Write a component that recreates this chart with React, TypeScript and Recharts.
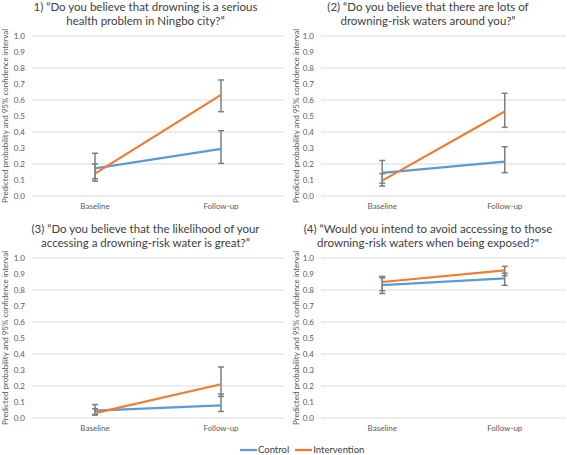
import React from 'react';
import { LineChart, Line, XAxis, YAxis, CartesianGrid, ErrorBar, Label } from 'recharts';

const categories = ['Baseline', 'Follow-up'];
const yTicks = [0, 0.1, 0.2, 0.3, 0.4, 0.5, 0.6, 0.7, 0.8, 0.9, 1.0];

// (1) serious health problem
const q1Control = [0.173, 0.294];
const q1ControlLow = [0.108, 0.204];
const q1ControlHigh = [0.267, 0.408];
const q1Intervention = [0.14, 0.632];
const q1InterventionLow = [0.093, 0.527];
const q1InterventionHigh = [0.2, 0.725];

// (2) lots of drowning-risk waters
const q2Control = [0.145, 0.215];
const q2ControlLow = [0.08, 0.146];
const q2ControlHigh = [0.222, 0.308];
const q2Intervention = [0.096, 0.528];
const q2InterventionLow = [0.062, 0.429];
const q2InterventionHigh = [0.14, 0.642];

// (3) likelihood of accessing
const q3Control = [0.046, 0.079];
const q3ControlLow = [0.022, 0.041];
const q3ControlHigh = [0.084, 0.15];
const q3Intervention = [0.031, 0.211];
const q3InterventionLow = [0.018, 0.135];
const q3InterventionHigh = [0.058, 0.319];

// (4) intend to avoid
const q4Control = [0.83, 0.872];
const q4ControlLow = [0.778, 0.829];
const q4ControlHigh = [0.876, 0.905];
const q4Intervention = [0.85, 0.922];
const q4InterventionLow = [0.795, 0.89];
const q4InterventionHigh = [0.885, 0.948];

const BLUE = '#5b9bd5';
const ORANGE = '#ed7d31';
const FONT = 'Lato, "Open Sans", sans-serif';

const buildRows = (c: number[], cLo: number[], cHi: number[], i: number[], iLo: number[], iHi: number[]) =>
  categories.map((name, k) => ({
    name,
    control: c[k],
    controlErr: [c[k] - cLo[k], cHi[k] - c[k]],
    intervention: i[k],
    interventionErr: [i[k] - iLo[k], iHi[k] - i[k]],
  }));

interface PanelProps {
  left: number;
  top: number;
  width: number;
  axisWidth: number;
  labelDx: number;
  title: string[];
  rows: ReturnType<typeof buildRows>;
}

const Panel: React.FC<PanelProps> = ({ left, top, width, axisWidth, labelDx, title, rows }) => (
  <div style={{ position: 'absolute', left, top, width, height: 215 }}>
    <div
      style={{
        position: 'absolute',
        left: 0,
        top: 0,
        width: '100%',
        textAlign: 'center',
        fontSize: 11.5,
        lineHeight: '14px',
        color: '#404040',
        paddingLeft: 3,
      }}
    >
      {title.map((t, k) => (
        <div key={k}>{t}</div>
      ))}
    </div>
    <LineChart width={width} height={215} data={rows} margin={{ top: 36, right: 1, bottom: 0, left: 0 }}>
      <CartesianGrid vertical={false} stroke="#d9d9d9" />
      <XAxis
        dataKey="name"
        scale="band"
        axisLine={false}
        tickLine={false}
        height={19}
        tick={{ fontSize: 8, fill: '#595959' }}
        tickMargin={1}
      />
      <YAxis
        domain={[0, 1]}
        ticks={yTicks}
        width={axisWidth}
        axisLine={false}
        tickLine={false}
        tickMargin={1}
        tickFormatter={(v: number) => v.toFixed(1)}
        tick={{ fontSize: 8, fill: '#595959' }}
      >
        <Label
          value="Predicted probability and 95% confidence interval"
          angle={-90}
          position="center"
          dx={labelDx}
          style={{ fontSize: 8, fill: '#595959', textAnchor: 'middle' }}
        />
      </YAxis>
      <Line dataKey="control" stroke={BLUE} strokeWidth={2.25} dot={false} isAnimationActive={false}>
        <ErrorBar dataKey="controlErr" direction="y" width={3} stroke="#7f7f7f" strokeWidth={1.5} />
      </Line>
      <Line dataKey="intervention" stroke={ORANGE} strokeWidth={2.25} dot={false} isAnimationActive={false}>
        <ErrorBar dataKey="interventionErr" direction="y" width={3} stroke="#7f7f7f" strokeWidth={1.5} />
      </Line>
    </LineChart>
  </div>
);

const LegendItem: React.FC<{ color: string; text: string }> = ({ color, text }) => (
  <span style={{ display: 'inline-flex', alignItems: 'center', marginRight: 6 }}>
    <svg width={17} height={8}>
      <line x1={0} y1={4} x2={17} y2={4} stroke={color} strokeWidth={2.25} />
    </svg>
    <span style={{ fontSize: 9.5, color: '#404040', marginLeft: 1 }}>{text}</span>
  </span>
);

export default function App() {
  return (
    <div
      style={{
        position: 'absolute',
        left: 0,
        top: 0,
        width: 567,
        height: 455,
        background: '#fff',
        fontFamily: FONT,
        overflow: 'hidden',
      }}
    >
      <Panel
        left={0}
        top={0}
        width={285}
        axisWidth={32}
        labelDx={-11}
        title={['1) “Do you believe that drowning is a serious', 'health problem in Ningbo city?”']}
        rows={buildRows(q1Control, q1ControlLow, q1ControlHigh, q1Intervention, q1InterventionLow, q1InterventionHigh)}
      />
      <Panel
        left={283}
        top={0}
        width={284}
        axisWidth={38}
        labelDx={-6}
        title={['(2) “Do you believe that there are lots of', 'drowning-risk waters around you?”']}
        rows={buildRows(q2Control, q2ControlLow, q2ControlHigh, q2Intervention, q2InterventionLow, q2InterventionHigh)}
      />
      <Panel
        left={0}
        top={222}
        width={285}
        axisWidth={32}
        labelDx={-11}
        title={['(3) “Do you believe that the likelihood of your', 'accessing a drowning-risk water is great?”']}
        rows={buildRows(q3Control, q3ControlLow, q3ControlHigh, q3Intervention, q3InterventionLow, q3InterventionHigh)}
      />
      <Panel
        left={283}
        top={222}
        width={284}
        axisWidth={38}
        labelDx={-6}
        title={['(4) “Would you intend to avoid accessing to those', 'drowning-risk waters when being exposed?"']}
        rows={buildRows(q4Control, q4ControlLow, q4ControlHigh, q4Intervention, q4InterventionLow, q4InterventionHigh)}
      />
      <div style={{ position: 'absolute', left: 240, top: 444, display: 'flex', whiteSpace: 'nowrap' }}>
        <LegendItem color={BLUE} text="Control" />
        <LegendItem color={ORANGE} text="Intervention" />
      </div>
    </div>
  );
}
